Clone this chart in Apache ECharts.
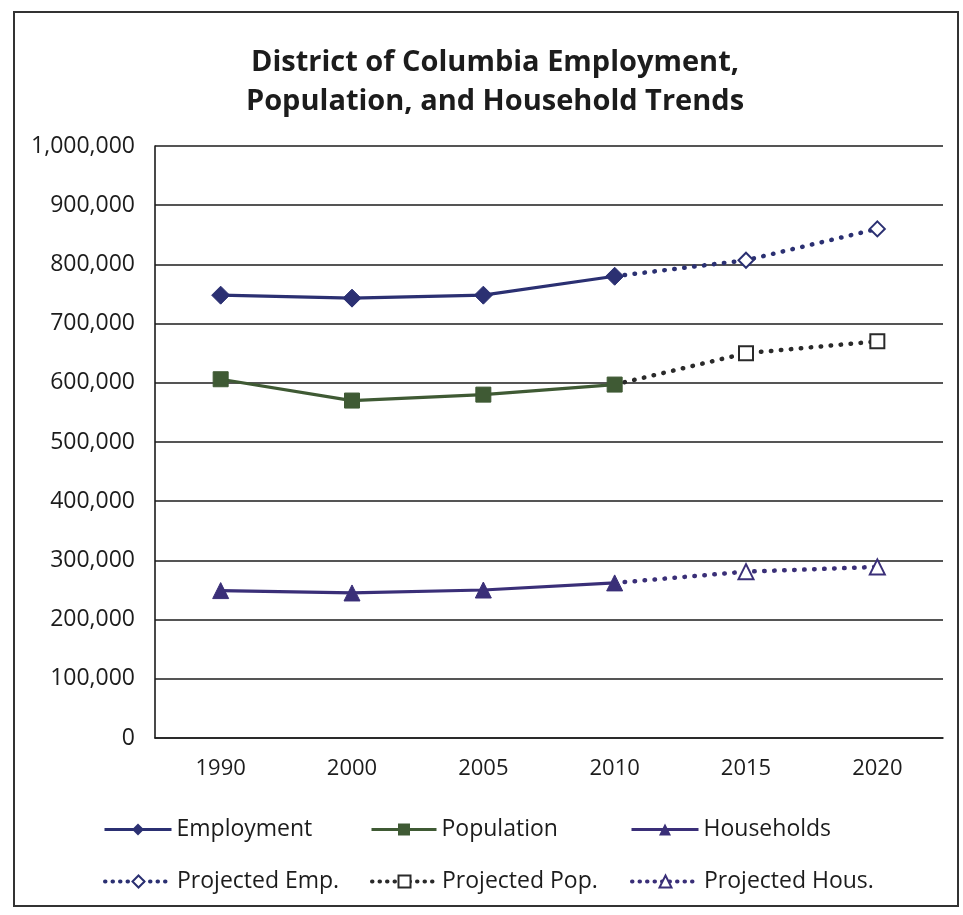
<!DOCTYPE html>
<html>
<head>
<meta charset="utf-8">
<script src="https://cdn.jsdelivr.net/npm/echarts@6/dist/echarts.min.js"></script>
<style>
  html, body { margin: 0; padding: 0; background: #ffffff; }
  #chart { width: 963px; height: 915px; }
</style>
</head>
<body>
<div id="chart"></div>
<script>
// Years on the category axis
const years = ['1990', '2000', '2005', '2010', '2015', '2020'];

// Observed values (1990–2010)
const employment = [748000, 743000, 748000, 780000, null, null];
const population = [606000, 570000, 580000, 597000, null, null];
const households = [249000, 245000, 250000, 262000, null, null];

// Projections, starting from the 2010 observation
const projectedEmp = [null, null, null, 780000, 807000, 860000];
const projectedPop = [null, null, null, 597000, 650000, 670000];
const projectedHous = [null, null, null, 262000, 281000, 289000];

// Value-axis ticks
const yTicks = [0, 100000, 200000, 300000, 400000, 500000, 600000, 700000, 800000, 900000, 1000000];

const FONT = '"Open Sans", "Liberation Sans", sans-serif';
const TEXT = '#1c1c1c';
const C_EMP = '#2b3072';
const C_POP = '#3f5a34';
const C_HOUS = '#3a2f78';

// The projection lines start at the 2010 point, which the observed line already marks
function projData(arr) {
  return arr.map((v, i) => (v == null ? null : (i === 3 ? { value: v, symbol: 'none' } : v)));
}

function solid(name, data, color, symbol, size) {
  return {
    name, type: 'line', data, z: 3,
    symbol, symbolSize: size,
    lineStyle: { color, width: 3.2 },
    itemStyle: { color, borderColor: color },
    connectNulls: false
  };
}

function dotted(name, data, color, symbol, size) {
  return {
    name, type: 'line', data: projData(data), z: 2,
    symbol, symbolSize: size,
    lineStyle: { color, width: 4.5, type: [0.5, 9.5], cap: 'round' },
    itemStyle: { color, borderColor: color, borderWidth: 2.4 },
    connectNulls: false
  };
}

function legendAt(name, left, top, w, dottedIcon) {
  return {
    data: [name], left, top, padding: 0,
    itemWidth: w, itemHeight: 15, itemGap: 0,
    lineStyle: dottedIcon ? { width: 4, type: [0.5, 7], cap: 'round' } : { width: 3 },
    textStyle: { fontFamily: FONT, fontSize: 23, color: TEXT }
  };
}

const chart = echarts.init(document.getElementById('chart'), null, { renderer: 'canvas' });

chart.setOption({
  animation: false,
  backgroundColor: '#ffffff',
  title: {
    text: 'District of Columbia Employment,\nPopulation, and Household Trends',
    left: 490, top: 38, textAlign: 'center',
    textStyle: { fontFamily: FONT, fontSize: 29, fontWeight: 'bold', color: TEXT, lineHeight: 39 }
  },
  graphic: [{
    type: 'rect', silent: true,
    shape: { x: 14, y: 12, width: 944, height: 894 },
    style: { fill: 'none', stroke: '#333', lineWidth: 2 }
  }],
  grid: { left: 155, right: 20, top: 146, bottom: 177 },
  xAxis: {
    type: 'category', data: years, boundaryGap: true,
    axisLine: { show: true, lineStyle: { color: '#1c1c1c', width: 1.6 } },
    axisTick: { show: false },
    axisLabel: { fontFamily: FONT, fontSize: 22, color: TEXT, margin: 20 }
  },
  yAxis: {
    type: 'value', min: yTicks[0], max: yTicks[yTicks.length - 1], interval: yTicks[1] - yTicks[0],
    axisLine: { show: true, lineStyle: { color: '#1c1c1c', width: 1.6 } },
    axisTick: { show: false },
    splitLine: { lineStyle: { color: '#1c1c1c', width: 1.5 } },
    axisLabel: {
      fontFamily: FONT, fontSize: 23, color: TEXT, margin: 20,
      formatter: v => v.toLocaleString('en-US')
    }
  },
  legend: [
    legendAt('Employment', 103, 818, 67, false),
    legendAt('Population', 370, 818, 65, false),
    legendAt('Households', 630, 818, 67, false),
    legendAt('Projected Emp.', 103, 870, 67, true),
    legendAt('Projected Pop.', 370, 870, 65, true),
    legendAt('Projected Hous.', 630, 870, 67, true)
  ],
  series: [
    solid('Employment', employment, C_EMP, 'diamond', 18),
    solid('Population', population, C_POP, 'rect', 15),
    solid('Households', households, C_HOUS, 'triangle', 16),
    dotted('Projected Emp.', projectedEmp, C_EMP, 'emptyDiamond', 15),
    dotted('Projected Pop.', projectedPop, '#2a2a2a', 'emptyRect', 14),
    dotted('Projected Hous.', projectedHous, C_HOUS, 'emptyTriangle', 15)
  ]
});
</script>
</body>
</html>
